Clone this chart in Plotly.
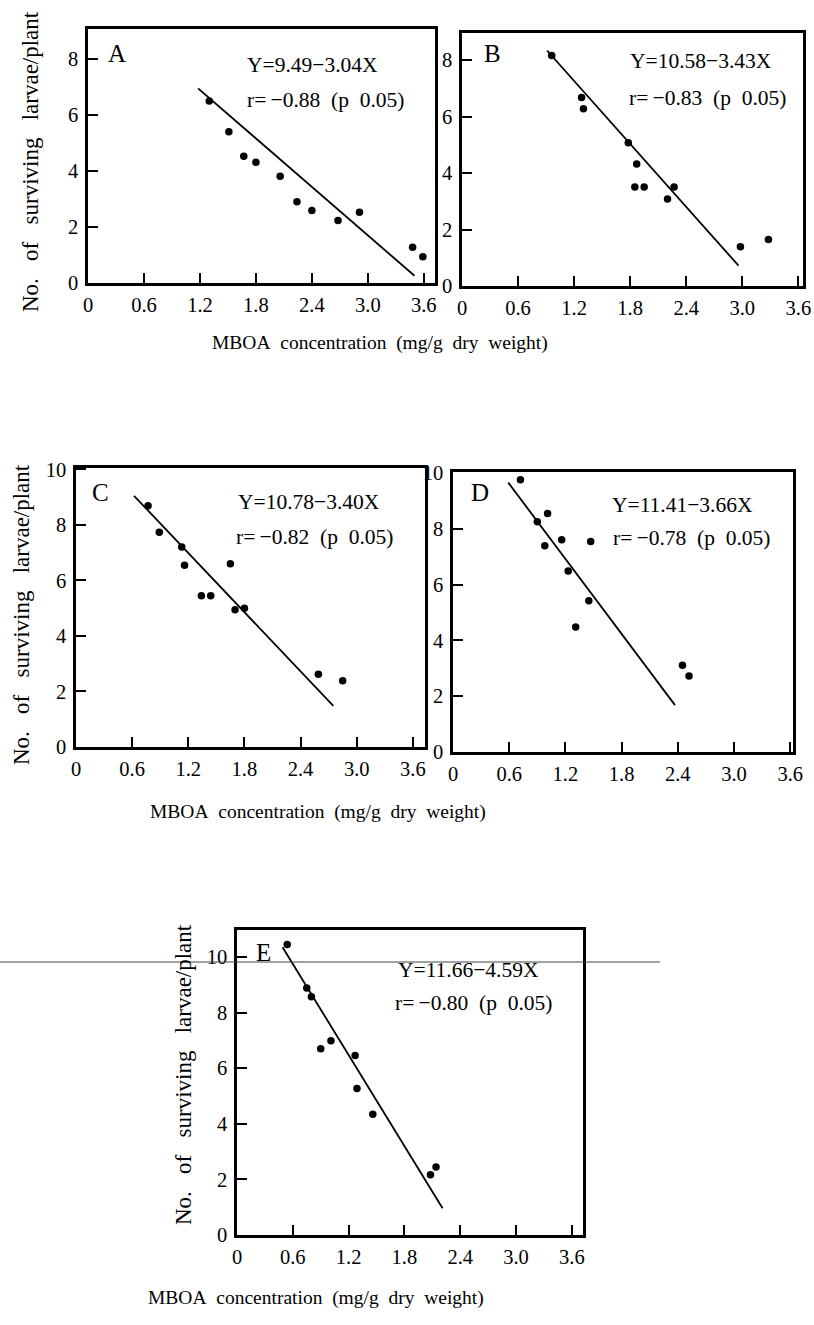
import plotly.graph_objects as go

W, H = 814, 1325

# ---- data ----
A_x = [1.30, 1.51, 1.67, 1.80, 2.06, 2.24, 2.40, 2.68, 2.91, 3.48, 3.59]
A_y = [6.50, 5.40, 4.53, 4.31, 3.81, 2.90, 2.59, 2.23, 2.53, 1.28, 0.94]
A_line_x = [1.18, 3.50]
A_line_y = [6.95, 0.26]

B_x = [0.96, 1.28, 1.30, 1.78, 1.87, 1.85, 1.95, 2.20, 2.27, 2.98, 3.28]
B_y = [8.16, 6.68, 6.28, 5.07, 4.32, 3.51, 3.51, 3.08, 3.51, 1.39, 1.65]
B_line_x = [0.91, 2.96]
B_line_y = [8.34, 0.72]

C_x = [0.77, 0.89, 1.13, 1.16, 1.34, 1.44, 1.65, 1.70, 1.80, 2.59, 2.85]
C_y = [8.69, 7.74, 7.20, 6.55, 5.45, 5.45, 6.60, 4.94, 5.00, 2.62, 2.39]
C_line_x = [0.62, 2.75]
C_line_y = [9.05, 1.48]

D_x = [0.72, 0.90, 1.01, 0.98, 1.16, 1.47, 1.23, 1.31, 1.45, 2.45, 2.52]
D_y = [9.75, 8.25, 8.54, 7.39, 7.60, 7.54, 6.48, 4.48, 5.42, 3.11, 2.72]
D_line_x = [0.59, 2.37]
D_line_y = [9.65, 1.68]

E_x = [0.54, 0.75, 0.80, 0.90, 1.01, 1.27, 1.29, 1.46, 2.08, 2.14]
E_y = [10.45, 8.88, 8.57, 6.70, 6.99, 6.46, 5.27, 4.34, 2.17, 2.45]
E_line_x = [0.49, 2.21]
E_line_y = [10.35, 0.96]

x_ticks = [0, 0.6, 1.2, 1.8, 2.4, 3.0, 3.6]
x_tick_labels = ["0", "0.6", "1.2", "1.8", "2.4", "3.0", "3.6"]

equations = ["Y=9.49\u22123.04X", "Y=10.58\u22123.43X", "Y=10.78\u22123.40X",
             "Y=11.41\u22123.66X", "Y=11.66\u22124.59X"]
correlations = ["\u22120.88", "\u22120.83", "\u22120.82", "\u22120.78", "\u22120.80"]
panel_letters = ["A", "B", "C", "D", "E"]

NB = "\u00a0"
x_title = (NB * 2).join(["MBOA", "concentration", "(mg/g", "dry", "weight)"])
y_title = (NB * 3).join(["No.", "of", "surviving", "larvae/plant"])

# ---- layout geometry (pixels in the page) ----
def px(x):
    return x / W

def py(y):
    return 1 - y / H

panels = [
    dict(x=A_x, y=A_y, lx=A_line_x, ly=A_line_y, box=(88, 435, 29, 283), xr=3.72, yr=9.07,
         yt=[0, 2, 4, 6, 8], letter=(117, 53), eq=(245, 65), rr=(245, 100)),
    dict(x=B_x, y=B_y, lx=B_line_x, ly=B_line_y, box=(462, 803, 33, 286), xr=3.65, yr=8.96,
         yt=[0, 2, 4, 6, 8], letter=(492, 53), eq=(628, 61), rr=(627, 98)),
    dict(x=C_x, y=C_y, lx=C_line_x, ly=C_line_y, box=(76, 425, 468, 747), xr=3.73, yr=10.05,
         yt=[0, 2, 4, 6, 8, 10], letter=(100, 492), eq=(236, 502), rr=(234, 537)),
    dict(x=D_x, y=D_y, lx=D_line_x, ly=D_line_y, box=(453, 793, 472, 752), xr=3.63, yr=10.03,
         yt=[0, 2, 4, 6, 8, 10], letter=(480, 493), eq=(610, 505), rr=(611, 538)),
    dict(x=E_x, y=E_y, lx=E_line_x, ly=E_line_y, box=(237, 583, 930, 1235), xr=3.72, yr=10.97,
         yt=[0, 2, 4, 6, 8, 10], letter=(263, 952), eq=(396, 970), rr=(393, 1003)),
]

fig = go.Figure()
annotations = []
tick_font = dict(family="Liberation Serif", size=20.5, color="black")
text_font = dict(family="Liberation Serif", size=21.5, color="black")
xtitle_font = dict(family="Liberation Serif", size=19.5, color="black")
ytitle_font = dict(family="Liberation Serif", size=23, color="black")

for i, p in enumerate(panels):
    n = "" if i == 0 else str(i + 1)
    xa, ya = "x" + n, "y" + n
    fig.add_trace(go.Scatter(x=p["x"], y=p["y"], mode="markers", xaxis=xa, yaxis=ya,
                             marker=dict(color="black", size=7.5), showlegend=False))
    fig.add_trace(go.Scatter(x=p["lx"], y=p["ly"], mode="lines", xaxis=xa, yaxis=ya,
                             line=dict(color="black", width=1.8), showlegend=False))
    x0, x1, y0, y1 = p["box"]
    common = dict(showgrid=False, zeroline=False, showline=True, linecolor="black",
                  linewidth=2.5, mirror=True, ticks="inside", ticklen=10, tickwidth=2,
                  tickcolor="black", tickfont=tick_font, fixedrange=True, automargin=False)
    fig.update_layout(**{
        "xaxis" + n: dict(domain=[px(x0), px(x1)], range=[0, p["xr"]], anchor=ya,
                          tickvals=x_ticks, ticktext=x_tick_labels, ticklabelstandoff=2, **common),
        "yaxis" + n: dict(domain=[py(y1), py(y0)], range=[0, p["yr"]], anchor=xa,
                          tickvals=p["yt"], ticklabelstandoff=3, **common),
    })
    annotations.append(dict(x=px(p["letter"][0]), y=py(p["letter"][1]), xref="paper", yref="paper",
                            text=panel_letters[i], showarrow=False, xanchor="center", yanchor="middle",
                            font=dict(family="Liberation Serif", size=25, color="black")))
    annotations.append(dict(x=px(p["eq"][0]), y=py(p["eq"][1]), xref="paper", yref="paper",
                            text=equations[i], showarrow=False, xanchor="left", yanchor="middle",
                            font=text_font))
    annotations.append(dict(x=px(p["rr"][0]), y=py(p["rr"][1]), xref="paper", yref="paper",
                            text="r=\u2009" + correlations[i] + NB * 2 + "(p" + NB * 2 + "0.05)",
                            showarrow=False, xanchor="left", yanchor="middle", font=text_font))

for (cx, cy) in [(380, 343), (318, 812), (316, 1298)]:
    annotations.append(dict(x=px(cx), y=py(cy), xref="paper", yref="paper", text=x_title,
                            showarrow=False, xanchor="center", yanchor="middle", font=xtitle_font))
for (cx, cy) in [(30, 162), (21, 615), (183, 1075)]:
    annotations.append(dict(x=px(cx), y=py(cy), xref="paper", yref="paper", text=y_title,
                            showarrow=False, textangle=-90, xanchor="center", yanchor="middle",
                            font=ytitle_font))

fig.update_layout(
    width=W, height=H, margin=dict(l=0, r=0, t=0, b=0, autoexpand=False),
    paper_bgcolor="white", plot_bgcolor="white",
    annotations=annotations,
    shapes=[dict(type="line", xref="paper", yref="paper", x0=0, x1=px(660), y0=py(962), y1=py(962),
                 line=dict(color="#444444", width=1))],
)

fig.write_html("out.html", config={"displayModeBar": False},
               post_script="document.body.style.margin='0px';document.body.style.padding='0px';"
                           "document.documentElement.style.overflow='hidden';")
